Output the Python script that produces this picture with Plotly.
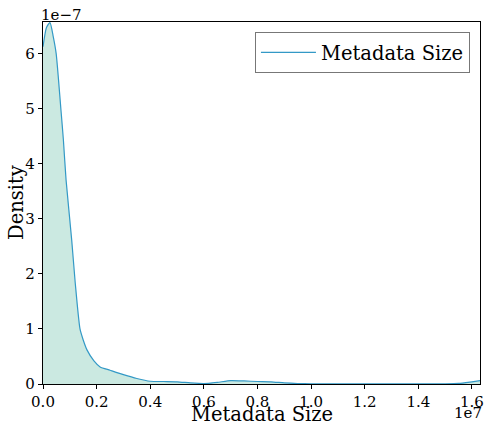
import plotly.graph_objects as go

# Metadata size in units of 1e7, density in units of 1e-7
x_vals = [0, 0.013, 0.026, 0.038, 0.049, 0.067, 0.076, 0.086, 0.107, 0.12, 0.138, 0.15,
          0.164, 0.19, 0.213, 0.25, 0.3, 0.35, 0.4, 0.45, 0.5, 0.55, 0.6, 0.65, 0.7,
          0.75, 0.8, 0.85, 0.9, 0.95, 1.0, 1.1, 1.2, 1.3, 1.4, 1.5, 1.55, 1.6, 1.63]
density = [6.13, 6.48, 6.57, 6.32, 6.01, 4.98, 4.44, 3.71, 2.62, 1.85, 1.0, 0.8,
           0.62, 0.42, 0.31, 0.25, 0.17, 0.1, 0.05, 0.045, 0.04, 0.02, 0.008, 0.03, 0.06,
           0.055, 0.045, 0.04, 0.02, 0.008, 0.003, 0.002, 0.002, 0.002, 0.002, 0.003, 0.01, 0.04, 0.06]

x_ticks = [0.0, 0.2, 0.4, 0.6, 0.8, 1.0, 1.2, 1.4, 1.6]
x_ticklabels = ["0.0", "0.2", "0.4", "0.6", "0.8", "1.0", "1.2", "1.4", "1.6"]
y_ticks = [0, 1, 2, 3, 4, 5, 6]
y_ticklabels = ["0", "1", "2", "3", "4", "5", "6"]

font_family = "DejaVu Serif"
line_style = dict(color="#3399c6", width=1.2, shape="spline", smoothing=0.6)

fig = go.Figure()
fig.add_trace(go.Scatter(
    x=x_vals, y=density, mode="lines", showlegend=False, hoverinfo="skip",
    line=dict(color="rgba(0,0,0,0)", width=0, shape="spline", smoothing=0.6),
    fill="tozeroy", fillcolor="rgba(160,215,200,0.55)",
))
fig.add_trace(go.Scatter(
    x=x_vals, y=density, mode="lines", name="Metadata Size", line=line_style,
))

axis_common = dict(showgrid=False, zeroline=False, showline=True, linecolor="black",
                   linewidth=1.2, mirror=True, ticks="outside", ticklen=4, automargin=False,
                   tickcolor="black", tickfont=dict(family=font_family, size=15, color="black"))

fig.update_layout(
    width=485, height=425,
    margin=dict(l=43, r=5, t=22, b=41),
    paper_bgcolor="white", plot_bgcolor="white",
    font=dict(family=font_family, color="black"),
    showlegend=True,
    legend=dict(x=0.977, y=0.972, xanchor="right", yanchor="top",
                bgcolor="white", bordercolor="#777", borderwidth=1,
                font=dict(family=font_family, size=19.5, color="black"),
                itemwidth=55),
    xaxis=dict(range=[0, 1.63], tickvals=x_ticks, ticktext=x_ticklabels, **axis_common),
    yaxis=dict(range=[0, 6.58], tickvals=y_ticks, ticktext=y_ticklabels, **axis_common),
    annotations=[
        dict(text="Metadata Size", xref="paper", yref="paper", x=0.5, y=0, xanchor="center", yanchor="top",
             showarrow=False, borderpad=0, font=dict(family=font_family, size=19.5, color="black"), yshift=-18),
        dict(text="Density", xref="paper", yref="paper", x=0, y=0.5, xanchor="center", yanchor="middle",
             textangle=-90, showarrow=False, borderpad=0, font=dict(family=font_family, size=19.5, color="black"), xshift=-27),
        dict(text="1e\u22127", xref="paper", yref="paper", x=0, y=1, xanchor="left", yanchor="bottom",
             showarrow=False, font=dict(family=font_family, size=15, color="black"), xshift=-4, yshift=-4),
        dict(text="1e7", xref="paper", yref="paper", x=1, y=0, xanchor="right", yanchor="top",
             showarrow=False, font=dict(family=font_family, size=15, color="black"), yshift=-18, xshift=4),
    ],
)

fig.write_html("out.html")
